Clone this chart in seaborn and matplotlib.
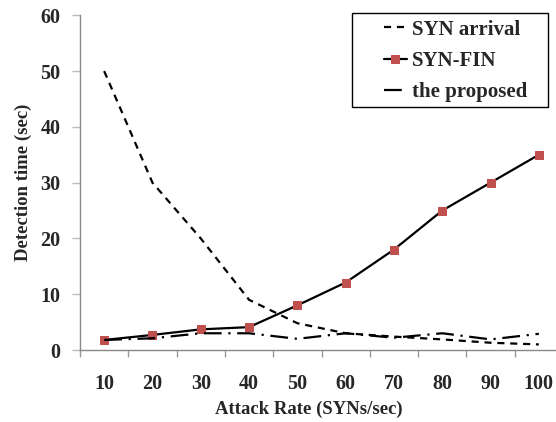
import matplotlib
matplotlib.use("Agg")
import matplotlib.pyplot as plt
import seaborn as sns
import pandas as pd
from matplotlib.ticker import MultipleLocator, FixedLocator
from matplotlib.patches import Rectangle

attack_rate = [10, 20, 30, 40, 50, 60, 70, 80, 90, 100]
syn_arrival = [50, 30, 20, 9, 4.8, 3.0, 2.4, 1.9, 1.3, 1.0]
syn_fin = [1.8, 2.7, 3.7, 4.1, 8.0, 12.1, 18, 25, 30, 35]
proposed = [1.8, 2.1, 3.0, 3.0, 2.0, 3.0, 2.2, 3.0, 1.9, 2.9]
series_names = ["SYN arrival", "SYN-FIN", "the proposed"]

sns.set_style("white")
plt.rcParams['font.family'] = ['Liberation Serif', 'DejaVu Serif']
plt.rcParams['font.weight'] = 'bold'

fig = plt.figure(figsize=(5.56, 4.22), dpi=100)
W, H = 556, 422
ax = fig.add_axes([80 / W, (H - 350) / H, (563 - 80) / W, (350 - 15.3) / H])

df1 = pd.DataFrame({"x": attack_rate, "y": syn_arrival})
df2 = pd.DataFrame({"x": attack_rate, "y": syn_fin})
df3 = pd.DataFrame({"x": attack_rate, "y": proposed})

sns.lineplot(data=df1, x="x", y="y", ax=ax, color="black", linewidth=1.6,
             label=series_names[0])
ax.lines[-1].set_dashes([3.2, 2.6])
sns.lineplot(data=df2, x="x", y="y", ax=ax, color="black", linewidth=1.6,
             marker="s", markersize=6, markerfacecolor="#C0504D",
             markeredgecolor="#C0504D", label=series_names[1])
sns.lineplot(data=df3, x="x", y="y", ax=ax, color="black", linewidth=1.6,
             label=series_names[2])
ax.lines[-1].set_dashes([8, 3, 1, 3])

ax.set_xlim(5, 105)
ax.set_ylim(0, 60)
ax.xaxis.set_major_locator(FixedLocator(attack_rate))
ax.xaxis.set_minor_locator(FixedLocator([5 + 10 * i for i in range(11)]))
ax.set_xticklabels([str(v) for v in attack_rate])
ax.yaxis.set_major_locator(MultipleLocator(10))
ax.tick_params(axis='x', which='major', bottom=True, length=0, pad=17, labelsize=14.5)
ax.tick_params(axis='x', which='minor', bottom=True, length=5, color='#999999',
               direction='out', width=1)
ax.tick_params(axis='y', which='major', left=True, length=6, color='#bbbbbb',
               direction='out', width=1, labelsize=14.5, pad=8)
for lab in ax.get_xticklabels() + ax.get_yticklabels():
    lab.set_fontweight('bold')

for s in ['top', 'right']:
    ax.spines[s].set_visible(False)
for s in ['left', 'bottom']:
    ax.spines[s].set_color('#888888')
    ax.spines[s].set_linewidth(1)

ax.set_xlabel("Attack Rate (SYNs/sec)", fontsize=13.5, fontweight='bold')
ax.set_ylabel("Detection time (sec)", fontsize=13.5, fontweight='bold', labelpad=6)
ax.xaxis.set_label_coords((309 - 80) / (563 - 80), -(401 - 350) / (350 - 15.3))

if ax.get_legend():
    ax.get_legend().remove()

# legend box
fig.patches.append(Rectangle((352 / W, (H - 107) / H), (548 - 352) / W, (107 - 13) / H,
                             transform=fig.transFigure, fill=False, edgecolor='black',
                             linewidth=1, figure=fig))
leg = fig.legend(handles=ax.lines, labels=series_names,
                 loc='upper left', bbox_to_anchor=(369 / W, (H - 5) / H),
                 frameon=False, handlelength=1.1, handletextpad=0.25,
                 borderpad=0.2, labelspacing=0.55,
                 prop={'weight': 'bold', 'size': 15})

fig.savefig("out.png", dpi=100)
